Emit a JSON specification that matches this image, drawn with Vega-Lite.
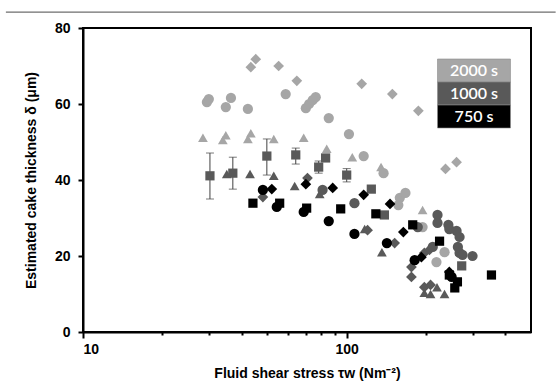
{
  "$schema": "https://vega.github.io/schema/vega-lite/v6.json",
  "width": 448,
  "height": 304,
  "autosize": {"type": "none"},
  "padding": {"left": 83, "top": 28, "right": 25, "bottom": 53},
  "background": "white",
  "config": {
    "view": {"stroke": "black", "strokeWidth": 2},
    "axis": {
      "domainColor": "black", "domainWidth": 2,
      "tickColor": "black", "tickWidth": 2,
      "labelFont": "Liberation Sans", "labelFontWeight": "bold", "labelFontSize": 14, "labelColor": "black",
      "titleFont": "Liberation Sans", "titleFontWeight": "bold", "titleFontSize": 14, "titleColor": "black",
      "grid": false
    }
  },
  "datasets": {
    "pts": [
      {"t": "2000 s", "s": "diamond", "x": 43.3, "y": 69.7},
      {"t": "2000 s", "s": "diamond", "x": 45.2, "y": 71.8},
      {"t": "2000 s", "s": "diamond", "x": 55.2, "y": 70.0},
      {"t": "2000 s", "s": "diamond", "x": 64.7, "y": 66.1},
      {"t": "2000 s", "s": "diamond", "x": 114, "y": 65.3},
      {"t": "2000 s", "s": "diamond", "x": 149, "y": 62.6},
      {"t": "2000 s", "s": "diamond", "x": 187, "y": 58.2},
      {"t": "2000 s", "s": "diamond", "x": 237, "y": 42.9},
      {"t": "2000 s", "s": "diamond", "x": 261, "y": 44.7},
      {"t": "2000 s", "s": "circle", "x": 29.5, "y": 60.5},
      {"t": "2000 s", "s": "circle", "x": 30.0, "y": 61.3},
      {"t": "2000 s", "s": "circle", "x": 34.8, "y": 59.2},
      {"t": "2000 s", "s": "circle", "x": 36.4, "y": 61.6},
      {"t": "2000 s", "s": "circle", "x": 42.2, "y": 58.7},
      {"t": "2000 s", "s": "circle", "x": 58.7, "y": 62.6},
      {"t": "2000 s", "s": "circle", "x": 70, "y": 58.9},
      {"t": "2000 s", "s": "circle", "x": 72, "y": 60},
      {"t": "2000 s", "s": "circle", "x": 74.3, "y": 61},
      {"t": "2000 s", "s": "circle", "x": 76.3, "y": 61.8},
      {"t": "2000 s", "s": "circle", "x": 85.5, "y": 56.3},
      {"t": "2000 s", "s": "circle", "x": 102, "y": 52.1},
      {"t": "2000 s", "s": "circle", "x": 116, "y": 46.3},
      {"t": "2000 s", "s": "circle", "x": 138, "y": 41.8},
      {"t": "2000 s", "s": "circle", "x": 159, "y": 35.3},
      {"t": "2000 s", "s": "circle", "x": 167, "y": 36.6},
      {"t": "2000 s", "s": "circle", "x": 157, "y": 33.4},
      {"t": "2000 s", "s": "circle", "x": 194, "y": 27.6},
      {"t": "2000 s", "s": "circle", "x": 235, "y": 21},
      {"t": "2000 s", "s": "circle", "x": 219, "y": 18.4},
      {"t": "2000 s", "s": "triangle", "x": 28.5, "y": 51.1},
      {"t": "2000 s", "s": "triangle", "x": 34.8, "y": 51.8},
      {"t": "2000 s", "s": "triangle", "x": 33.9, "y": 50.5},
      {"t": "2000 s", "s": "triangle", "x": 43.3, "y": 52.3},
      {"t": "2000 s", "s": "triangle", "x": 42.2, "y": 50.8},
      {"t": "2000 s", "s": "triangle", "x": 52.9, "y": 50.8},
      {"t": "2000 s", "s": "triangle", "x": 68.7, "y": 51.1},
      {"t": "2000 s", "s": "triangle", "x": 84, "y": 48.2},
      {"t": "2000 s", "s": "triangle", "x": 105, "y": 46},
      {"t": "2000 s", "s": "triangle", "x": 135, "y": 43.4},
      {"t": "2000 s", "s": "triangle", "x": 194, "y": 32.1},
      {"t": "1000 s", "s": "square", "x": 30.3, "y": 41.1},
      {"t": "1000 s", "s": "square", "x": 37, "y": 41.8},
      {"t": "1000 s", "s": "square", "x": 49.8, "y": 46.3},
      {"t": "1000 s", "s": "square", "x": 64.1, "y": 46.6},
      {"t": "1000 s", "s": "square", "x": 78.3, "y": 43.4},
      {"t": "1000 s", "s": "square", "x": 83.2, "y": 45.8},
      {"t": "1000 s", "s": "square", "x": 100, "y": 41.3},
      {"t": "1000 s", "s": "square", "x": 124, "y": 37.6},
      {"t": "1000 s", "s": "square", "x": 139, "y": 30.8},
      {"t": "1000 s", "s": "square", "x": 273, "y": 17.4},
      {"t": "1000 s", "s": "triangle", "x": 35.1, "y": 41.6},
      {"t": "1000 s", "s": "triangle", "x": 43, "y": 41.6},
      {"t": "1000 s", "s": "triangle", "x": 52.9, "y": 41.1},
      {"t": "1000 s", "s": "triangle", "x": 63.5, "y": 38.4},
      {"t": "1000 s", "s": "triangle", "x": 79, "y": 36.3},
      {"t": "1000 s", "s": "triangle", "x": 117, "y": 27.1},
      {"t": "1000 s", "s": "triangle", "x": 136, "y": 21},
      {"t": "1000 s", "s": "triangle", "x": 197, "y": 10.3},
      {"t": "1000 s", "s": "triangle", "x": 208, "y": 10},
      {"t": "1000 s", "s": "triangle", "x": 220, "y": 11.8},
      {"t": "1000 s", "s": "triangle", "x": 235, "y": 10},
      {"t": "1000 s", "s": "diamond", "x": 48.1, "y": 35.5},
      {"t": "1000 s", "s": "diamond", "x": 71, "y": 40.5},
      {"t": "1000 s", "s": "diamond", "x": 120, "y": 26.8},
      {"t": "1000 s", "s": "diamond", "x": 152, "y": 23.4},
      {"t": "1000 s", "s": "diamond", "x": 176, "y": 17.1},
      {"t": "1000 s", "s": "diamond", "x": 176, "y": 14.5},
      {"t": "1000 s", "s": "diamond", "x": 197, "y": 20.8},
      {"t": "1000 s", "s": "diamond", "x": 206, "y": 21.6},
      {"t": "1000 s", "s": "diamond", "x": 197, "y": 11.8},
      {"t": "1000 s", "s": "diamond", "x": 208, "y": 12.4},
      {"t": "1000 s", "s": "circle", "x": 81, "y": 37.4},
      {"t": "1000 s", "s": "circle", "x": 107, "y": 33.9},
      {"t": "1000 s", "s": "circle", "x": 186, "y": 27.6},
      {"t": "1000 s", "s": "circle", "x": 212, "y": 22.4},
      {"t": "1000 s", "s": "circle", "x": 221, "y": 30.8},
      {"t": "1000 s", "s": "circle", "x": 221, "y": 28.7},
      {"t": "1000 s", "s": "circle", "x": 243, "y": 28.2},
      {"t": "1000 s", "s": "circle", "x": 245, "y": 27.1},
      {"t": "1000 s", "s": "circle", "x": 261, "y": 26.6},
      {"t": "1000 s", "s": "circle", "x": 268, "y": 25},
      {"t": "1000 s", "s": "circle", "x": 264, "y": 22.4},
      {"t": "1000 s", "s": "circle", "x": 268, "y": 20.8},
      {"t": "1000 s", "s": "circle", "x": 275, "y": 20.3},
      {"t": "1000 s", "s": "circle", "x": 300, "y": 20},
      {"t": "750 s", "s": "square", "x": 44.1, "y": 33.9},
      {"t": "750 s", "s": "square", "x": 55.7, "y": 33.9},
      {"t": "750 s", "s": "square", "x": 70.5, "y": 32.6},
      {"t": "750 s", "s": "square", "x": 94.9, "y": 32.4},
      {"t": "750 s", "s": "square", "x": 129, "y": 31.1},
      {"t": "750 s", "s": "square", "x": 178, "y": 28.2},
      {"t": "750 s", "s": "square", "x": 225, "y": 23.9},
      {"t": "750 s", "s": "square", "x": 245, "y": 15},
      {"t": "750 s", "s": "square", "x": 257, "y": 11.6},
      {"t": "750 s", "s": "square", "x": 263, "y": 13.2},
      {"t": "750 s", "s": "square", "x": 354, "y": 15},
      {"t": "750 s", "s": "circle", "x": 48.1, "y": 37.4},
      {"t": "750 s", "s": "circle", "x": 54.3, "y": 32.9},
      {"t": "750 s", "s": "circle", "x": 68.7, "y": 31.6},
      {"t": "750 s", "s": "circle", "x": 85.5, "y": 29.2},
      {"t": "750 s", "s": "circle", "x": 107, "y": 25.8},
      {"t": "750 s", "s": "circle", "x": 142, "y": 23.4},
      {"t": "750 s", "s": "circle", "x": 181, "y": 18.9},
      {"t": "750 s", "s": "circle", "x": 250, "y": 14.5},
      {"t": "750 s", "s": "diamond", "x": 52, "y": 37.6},
      {"t": "750 s", "s": "diamond", "x": 70, "y": 38.9},
      {"t": "750 s", "s": "diamond", "x": 88.5, "y": 37.9},
      {"t": "750 s", "s": "diamond", "x": 116, "y": 36.1},
      {"t": "750 s", "s": "diamond", "x": 146, "y": 33.7},
      {"t": "750 s", "s": "diamond", "x": 164, "y": 26.3},
      {"t": "750 s", "s": "diamond", "x": 192, "y": 19.7},
      {"t": "750 s", "s": "diamond", "x": 245, "y": 15.8}
    ],
    "err": [
      {"x": 30.3, "lo": 35, "hi": 47.1},
      {"x": 37, "lo": 37.6, "hi": 46},
      {"x": 49.8, "lo": 41.3, "hi": 50.8},
      {"x": 64.1, "lo": 44.2, "hi": 48.4},
      {"x": 78.3, "lo": 41.8, "hi": 45},
      {"x": 100, "lo": 39.5, "hi": 43}
    ],
    "leg": [
      {"label": "2000 s"},
      {"label": "1000 s"},
      {"label": "750 s"}
    ]
  },
  "resolve": {"scale": {"y": "independent"}},
  "layer": [
    {
      "layer": [
        {
          "data": {"values": [{}]},
          "mark": {"type": "rule", "color": "#6e6e6e", "strokeWidth": 1.2, "clip": false},
          "encoding": {
            "x": {"datum": 5.1, "type": "quantitative"},
            "x2": {"datum": 620},
            "y": {"datum": 84.2, "type": "quantitative", "title": "Estimated cake thickness δ (μm)"}
          }
        },
        {
          "data": {"name": "err"},
          "mark": {"type": "errorbar", "ticks": {"size": 8}, "color": "#404040", "thickness": 1},
          "encoding": {
            "x": {"field": "x", "type": "quantitative", "title": "Fluid shear stress τw (Nm⁻²)"},
            "y": {"field": "lo", "type": "quantitative", "title": "Estimated cake thickness δ (μm)"},
            "y2": {"field": "hi"}
          }
        },
        {
          "data": {"name": "pts"},
          "mark": {"type": "point", "filled": true, "opacity": 1},
          "encoding": {
            "x": {
              "field": "x", "type": "quantitative",
              "title": "Fluid shear stress τw (Nm⁻²)",
              "scale": {"type": "log", "domain": [10, 500], "nice": false},
              "axis": {
                "values": [10, 20, 30, 40, 50, 60, 70, 80, 90, 100, 200, 300, 400],
                "labelExpr": "datum.value == 10 ? '10' : (datum.value == 100 ? '100' : '')",
                "tickSize": {"condition": {"test": "datum.value == 10 || datum.value == 100", "value": 6}, "value": 3},
                "labelPadding": 4,
                "titlePadding": 10
              }
            },
            "y": {
              "field": "y", "type": "quantitative",
              "title": "Estimated cake thickness δ (μm)",
              "scale": {"domain": [0, 80], "nice": false},
              "axis": {
                "values": [0, 10, 20, 30, 40, 50, 60, 70, 80],
                "tickSize": 5,
                "labelPadding": 8,
                "titlePadding": 16
              }
            },
            "color": {
              "field": "t", "type": "nominal",
              "scale": {"domain": ["2000 s", "1000 s", "750 s"], "range": ["#a6a6a6", "#595959", "#000000"]},
              "legend": null
            },
            "shape": {
              "field": "s", "type": "nominal",
              "scale": {"domain": ["diamond", "circle", "triangle", "square"], "range": ["diamond", "circle", "triangle-up", "square"]},
              "legend": null
            },
            "size": {
              "field": "s", "type": "nominal",
              "scale": {"domain": ["diamond", "circle", "triangle", "square"], "range": [115, 85, 90, 80]},
              "legend": null
            }
          }
        }
      ]
    },
    {
      "data": {"name": "leg"},
      "encoding": {
        "y": {
          "field": "label", "type": "nominal", "sort": null,
          "scale": {"domain": ["2000 s", "1000 s", "750 s"], "range": [31, 100], "paddingInner": 0, "paddingOuter": 0},
          "axis": null
        }
      },
      "layer": [
        {
          "mark": {"type": "rect", "stroke": "#8c8c8c", "strokeWidth": 0.6},
          "encoding": {
            "x": {"datum": 221, "type": "quantitative"},
            "x2": {"datum": 418},
            "color": {"field": "label", "type": "nominal", "legend": null}
          }
        },
        {
          "mark": {"type": "text", "color": "white", "font": "Lato", "fontSize": 16, "fontWeight": 600, "align": "center", "baseline": "middle"},
          "encoding": {
            "x": {"datum": 304, "type": "quantitative"},
            "text": {"field": "label"}
          }
        }
      ]
    }
  ]
}
